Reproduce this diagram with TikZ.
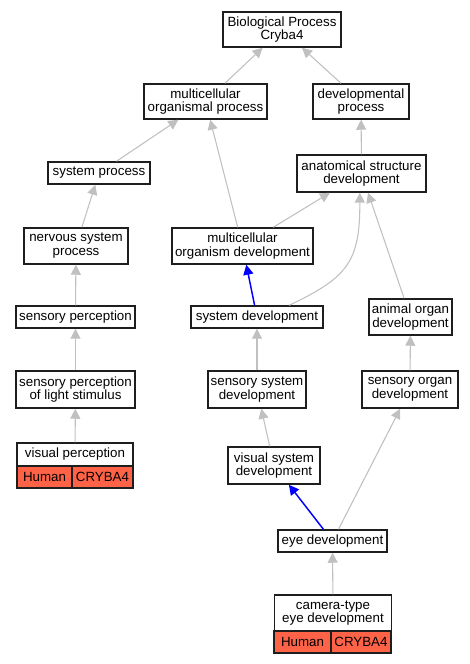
\documentclass[tikz,border=0pt]{standalone}
\usepackage{fontspec}
\setmainfont{Liberation Sans}
\usetikzlibrary{arrows.meta}
\definecolor{edgegray}{RGB}{192,192,192}
\definecolor{tomato}{RGB}{255,99,71}
\definecolor{bord}{RGB}{30,30,30}
\tikzset{
  box/.style={draw=bord, line width=1.1pt, fill=white, inner sep=0pt, align=center,
    font=\fontsize{10}{10.4}\selectfont},
  cell/.style={box, fill=tomato},
  sz/.style 2 args={minimum width=#1*0.75pt, minimum height=#2*0.75pt},
  isa/.style={draw=edgegray, line width=0.8pt, -{Triangle[length=7.5pt,width=7.5pt]}},
  part/.style={draw=blue, line width=1.1pt, -{Triangle[length=7.5pt,width=7.5pt]}}
}
\begin{document}
\begin{tikzpicture}[x=0.75pt,y=-0.75pt]
\useasboundingbox (0,0) rectangle (469,664);
% nodes
\node[box,sz={118}{35}] (bp) at (282,29.5) {Biological Process\\Cryba4};
\node[box,sz={123}{35}] (mop) at (205.5,101.5) {multicellular\\organismal process};
\node[box,sz={96}{35}] (dp) at (361,101.5) {developmental\\process};
\node[box,sz={102}{22}] (sp) at (99,173) {system process};
\node[box,sz={129}{37}] (asd) at (361.5,173.5) {anatomical structure\\development};
\node[box,sz={104}{36}] (nsp) at (76,246) {nervous system\\process};
\node[box,sz={141}{36}] (mod) at (242.5,246) {multicellular\\organism development};
\node[box,sz={119}{22}] (sensp) at (75.5,317) {sensory perception};
\node[box,sz={132}{22}] (sd) at (257,317) {system development};
\node[box,sz={83}{36}] (aod) at (410.5,317) {animal organ\\development};
\node[box,sz={119}{37}] (spls) at (75.5,389.5) {sensory perception\\of light stimulus};
\node[box,sz={98}{37}] (ssd) at (257,389.5) {sensory system\\development};
\node[box,sz={96}{37}] (sod) at (410,389.5) {sensory organ\\development};
\node[box,sz={116}{23}] (vp) at (75,454.5) {visual perception};
\node[cell,sz={55}{22}] (vph) at (44.5,477) {Human};
\node[cell,sz={61}{22}] (vpc) at (102.5,477) {CRYBA4};
\node[box,sz={92}{37}] (vsd) at (274,465.5) {visual system\\development};
\node[box,sz={109}{22}] (ed) at (332.5,541) {eye development};
\node[box,sz={117}{36}] (cted) at (333,613) {camera-type\\eye development};
\node[cell,sz={57}{22}] (ctedh) at (302.5,642) {Human};
\node[cell,sz={60}{22}] (ctedc) at (361,642) {CRYBA4};
% edges
\draw[isa] (mop) -- (bp);
\draw[isa] (dp) -- (bp);
\draw[isa] (sp) -- (mop);
\draw[isa] (mod) -- (mop);
\draw[isa] (asd) -- (dp);
\draw[isa] (nsp) -- (sp);
\draw[isa] (mod) -- (asd);
\draw[part] (sd) -- (mod);
\draw[isa] (sd.20.8) .. controls (347.5,277.5) and (360,262) .. (asd.265);
\draw[isa] (aod) -- (asd);
\draw[isa] (sensp) -- (nsp);
\draw[isa] (spls) -- (sensp);
\draw[isa] (ssd) -- (sd);
\draw[isa] (sod) -- (aod);
\draw[isa] (vp) -- (spls);
\draw[isa] (vsd) -- (ssd);
\draw[part] (ed) -- (vsd);
\draw[isa] (ed) -- (sod);
\draw[isa] (cted) -- (ed);
\end{tikzpicture}
\end{document}
